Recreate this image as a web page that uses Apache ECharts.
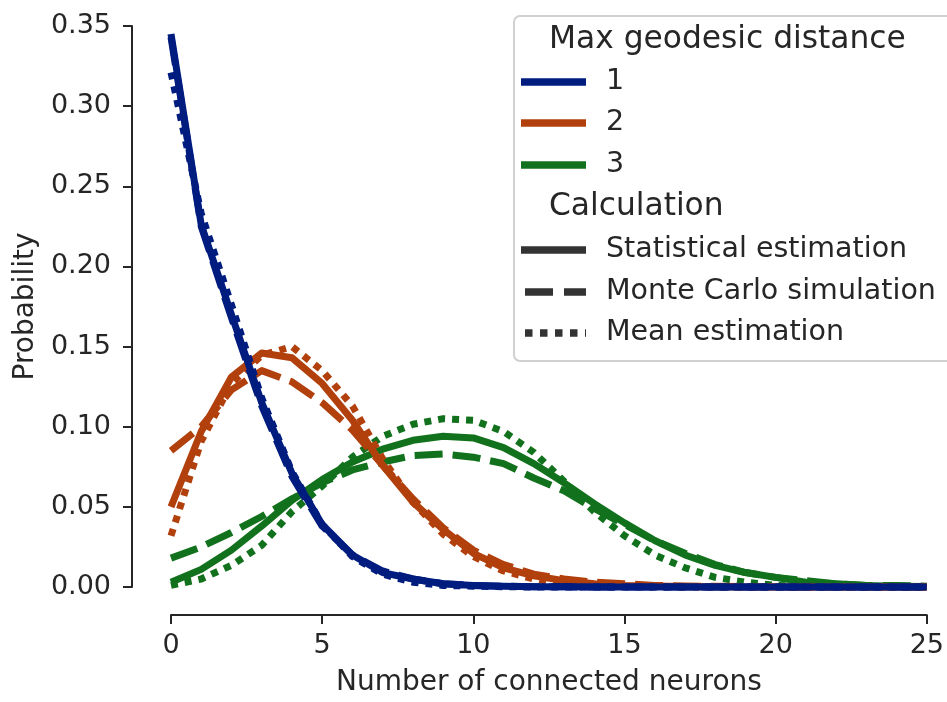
<!DOCTYPE html>
<html>
<head>
<meta charset="utf-8">
<script src="https://cdn.jsdelivr.net/npm/echarts@6/dist/echarts.min.js"></script>
<style>
html,body{margin:0;padding:0;background:#fff;}
#chart{width:947px;height:702px;}
</style>
</head>
<body>
<div id="chart"></div>
<script>
// ---- data ----
const xValues = [0,1,2,3,4,5,6,7,8,9,10,11,12,13,14,15,16,17,18,19,20,21,22,23,24,25];

const d1Statistical = [0.345,0.226,0.170,0.115,0.071,0.039,0.020,0.009,0.005,0.002,0.001,0.0005,0.0002,0.0001,0,0,0,0,0,0,0,0,0,0,0,0];
const d1MonteCarlo  = [0.343,0.225,0.168,0.113,0.069,0.038,0.020,0.010,0.005,0.002,0.001,0.0005,0.0002,0.0001,0,0,0,0,0,0,0,0,0,0,0,0];
const d1Mean        = [0.321,0.233,0.176,0.118,0.072,0.039,0.019,0.008,0.003,0.001,0.0005,0.0002,0,0,0,0,0,0,0,0,0,0,0,0,0,0];

const d2Statistical = [0.050,0.097,0.131,0.146,0.143,0.127,0.104,0.076,0.053,0.036,0.021,0.012,0.007,0.004,0.002,0.001,0.0006,0.0003,0.0001,0,0,0,0,0,0,0];
const d2MonteCarlo  = [0.085,0.100,0.123,0.135,0.128,0.115,0.098,0.076,0.055,0.037,0.023,0.014,0.008,0.005,0.003,0.002,0.001,0.0007,0.0004,0.0002,0.0001,0,0,0,0,0];
const d2Mean        = [0.032,0.091,0.127,0.1445,0.150,0.135,0.113,0.080,0.053,0.033,0.019,0.010,0.005,0.002,0.001,0.0005,0.0002,0,0,0,0,0,0,0,0,0];

const d3Statistical = [0.003,0.011,0.023,0.038,0.054,0.067,0.078,0.086,0.0915,0.094,0.093,0.087,0.077,0.065,0.052,0.040,0.029,0.020,0.0135,0.009,0.006,0.003,0.002,0.001,0.0005,0.0003];
const d3MonteCarlo  = [0.018,0.025,0.034,0.044,0.055,0.065,0.073,0.078,0.082,0.083,0.081,0.077,0.068,0.060,0.049,0.039,0.029,0.021,0.014,0.009,0.006,0.004,0.002,0.001,0.001,0.0005];
const d3Mean        = [0.001,0.005,0.0135,0.026,0.047,0.063,0.081,0.094,0.1015,0.105,0.104,0.097,0.084,0.066,0.047,0.032,0.020,0.012,0.006,0.003,0.001,0.0005,0.0002,0,0,0];

const distanceLevels = ['1','2','3'];
const calculationLevels = ['Statistical estimation','Monte Carlo simulation','Mean estimation'];
const xTicks = [0,5,10,15,20,25];
const yTicks = [0,0.05,0.10,0.15,0.20,0.25,0.30,0.35];

// ---- styling ----
const FONT = 'DejaVu Sans';
const TXT = '#262626';
const colors = {'1':'#001c7f','2':'#b1400d','3':'#12711c'};
const LW = 7;
const dashStyles = {
  'Statistical estimation':'solid',
  'Monte Carlo simulation':[28,10],
  'Mean estimation':[7,7]
};

const dataByLevel = {
  '1': {'Statistical estimation': d1Statistical, 'Monte Carlo simulation': d1MonteCarlo, 'Mean estimation': d1Mean},
  '2': {'Statistical estimation': d2Statistical, 'Monte Carlo simulation': d2MonteCarlo, 'Mean estimation': d2Mean},
  '3': {'Statistical estimation': d3Statistical, 'Monte Carlo simulation': d3MonteCarlo, 'Mean estimation': d3Mean}
};

const series = [];
const drawOrder = ['3','2','1'];
drawOrder.forEach((lvl, li) => {
  calculationLevels.forEach((calc, ci) => {
    const vals = dataByLevel[lvl][calc];
    series.push({
      name: lvl + ' ' + calc,
      type: 'line',
      data: xValues.map((x, i) => [x, vals[i]]),
      showSymbol: false,
      symbol: 'none',
      smooth: false,
      clip: false,
      z: 2 + li,
      silent: true,
      lineStyle: {color: colors[lvl], width: LW, type: dashStyles[calc], cap: 'butt', join: 'round'},
      emphasis: {disabled: true}
    });
  });
});

// ---- legend (graphic) ----
const LX0 = 521, LX1 = 586, LTX = 606;
const legendRows = [
  {kind:'title', text:'Max geodesic distance', y:40},
  {kind:'item', text:distanceLevels[0], y:82, color:colors['1'], dash:null},
  {kind:'item', text:distanceLevels[1], y:123, color:colors['2'], dash:null},
  {kind:'item', text:distanceLevels[2], y:165, color:colors['3'], dash:null},
  {kind:'title', text:'Calculation', y:207},
  {kind:'item', text:calculationLevels[0], y:250, color:'#333333', dash:null},
  {kind:'item', text:calculationLevels[1], y:292, color:'#333333', dash:[28,11], off:-4},
  {kind:'item', text:calculationLevels[2], y:333, color:'#333333', dash:[7.5,7.5], off:-4}
];
const graphic = [{
  type:'rect', left:513, top:15, z:10,
  shape:{width:460, height:345, r:6},
  style:{fill:'rgba(255,255,255,0.85)', stroke:'#d0d0d0', lineWidth:2}
}];
legendRows.forEach(r => {
  if (r.kind === 'title') {
    graphic.push({type:'text', x:549, y:r.y, z:11,
      style:{text:r.text, font:'31.3px "DejaVu Sans"', fill:TXT, textVerticalAlign:'middle', textAlign:'left'}});
  } else {
    graphic.push({type:'line', z:11,
      shape:{x1:LX0, y1:r.y, x2:LX1, y2:r.y},
      style:{stroke:r.color, lineWidth:7.5, lineDash:r.dash || null, lineDashOffset:r.off || 0, lineCap:'butt'}});
    graphic.push({type:'text', x:LTX, y:r.y, z:11,
      style:{text:r.text, font:'28.5px "DejaVu Sans"', fill:TXT, textVerticalAlign:'middle', textAlign:'left'}});
  }
});

const chart = echarts.init(document.getElementById('chart'), null, {renderer:'canvas'});
chart.setOption({
  animation:false,
  backgroundColor:'#ffffff',
  textStyle:{fontFamily:FONT},
  grid:{left:171, right:20, top:26, bottom:107, containLabel:false},
  xAxis:{
    type:'value', min:xTicks[0], max:xTicks[xTicks.length-1], interval:5,
    offset:28,
    name:'Number of connected neurons', nameLocation:'middle', nameGap:54,
    nameTextStyle:{fontFamily:FONT, fontSize:28, color:TXT},
    axisLine:{show:true, onZero:false, lineStyle:{color:TXT, width:2}},
    axisTick:{show:true, length:9, inside:false, lineStyle:{color:TXT, width:2}},
    axisLabel:{fontFamily:FONT, fontSize:27, color:TXT, margin:17},
    splitLine:{show:false}
  },
  yAxis:{
    type:'value', min:yTicks[0], max:yTicks[yTicks.length-1], interval:0.05,
    offset:39,
    name:'Probability', nameLocation:'middle', nameGap:90, nameRotate:90,
    nameTextStyle:{fontFamily:FONT, fontSize:28, color:TXT},
    axisLine:{show:true, onZero:false, lineStyle:{color:TXT, width:2}},
    axisTick:{show:true, length:9, inside:false, lineStyle:{color:TXT, width:2}},
    axisLabel:{fontFamily:FONT, fontSize:27, color:TXT, margin:21, formatter:v => v.toFixed(2)},
    splitLine:{show:false}
  },
  series: series,
  graphic: graphic
});
</script>
</body>
</html>
